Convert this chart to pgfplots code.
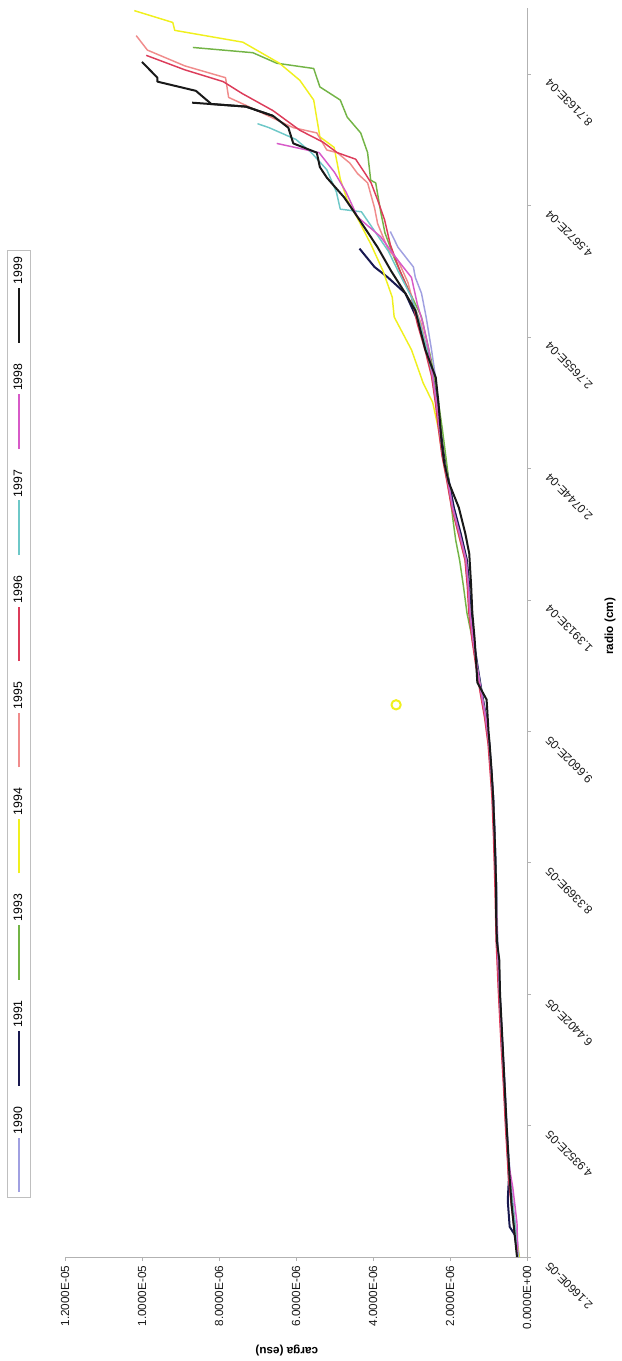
\documentclass[border=0pt]{standalone}
\usepackage{fontspec}
\setmainfont{Liberation Sans}
\usepackage{pgfplots}
\pgfplotsset{compat=1.18}
\definecolor{c1990}{RGB}{160,160,225}
\definecolor{c1991}{RGB}{25,25,80}
\definecolor{c1993}{RGB}{115,180,70}
\definecolor{c1994}{RGB}{240,240,30}
\definecolor{c1995}{RGB}{240,140,140}
\definecolor{c1996}{RGB}{220,60,90}
\definecolor{c1997}{RGB}{110,200,200}
\definecolor{c1998}{RGB}{215,90,200}
\definecolor{c1999}{RGB}{25,25,25}
\begin{document}
\begin{tikzpicture}[rotate=90, transform shape]
\path[use as bounding box] (-78.0pt,-71.24pt) rectangle (942.75pt,395.25pt);
\begin{axis}[
  at={(0pt,0pt)}, anchor=south west,
  scale only axis,
  width=936.75pt, height=346.5pt,
  xmin=0, xmax=95, ymin=0, ymax=12,
  axis lines*=left,
  axis line style={-, draw=gray!60},
  tick style={draw=gray!60},
  tick align=outside,
  major tick length=3pt,
  xtick={0,10,...,90},
  xticklabels={2.1660E-05,4.9352E-05,6.4402E-05,8.3369E-05,9.6602E-05,1.3913E-04,2.0744E-04,2.7655E-04,4.5672E-04,8.7163E-04},
  ytick={0,2,...,12},
  yticklabels={0.0000E+00,2.0000E-06,4.0000E-06,6.0000E-06,8.0000E-06,1.0000E-05,1.2000E-05},
  xticklabel style={xshift=-3pt, yshift=-10pt, rotate=45, anchor=east, font=\fontsize{8.8}{10}\selectfont, text=gray!20!black},
  yticklabel style={font=\fontsize{8.8}{10}\selectfont, text=gray!20!black},
  xlabel={\textbf{radio (cm)}},
  ylabel={\textbf{carga (esu)}},
  xlabel style={at={(axis description cs:0.505,-0.18)}, anchor=center, font=\fontsize{8.8}{10}\selectfont},
  ylabel style={at={(axis description cs:-0.075,0.52)}, anchor=center, rotate=0, font=\fontsize{8.8}{10}\selectfont},
  legend columns=9,
  legend style={at={(axis description cs:0.427,1.1)}, anchor=center, draw=gray!50, font=\fontsize{9.2}{11}\selectfont,
    inner ysep=2.5pt,
    /tikz/every even column/.append style={column sep=13pt}},
  legend image code/.code={\draw[#1] (0pt,0pt) -- (41pt,0pt);},
  every axis plot/.append style={line width=1.1pt, line join=round},
]
\addplot[c1990] coordinates {(0,0.20) (2,0.28) (4,0.36) (6,0.43) (8,0.48) (10,0.52) (13,0.57) (16,0.63) (20,0.70) (24,0.76) (28,0.79) (32,0.83) (35,0.87) (37,0.92) (39,0.97) (41,1.05) (43,1.17) (45,1.28) (47,1.38) (49,1.46) (51,1.50) (53,1.56) (55,1.72) (57,1.90) (59,2.02) (61,2.15) (63,2.24) (65,2.32) (67,2.38) (69,2.48) (71.5,2.62) (73.3,2.74) (74.5,2.9) (75.3,2.95) (76.8,3.35) (78,3.55)};
\addlegendentry{1990}
\addplot[c1991, line width=1.5pt] coordinates {(0,0.22) (1.7,0.32) (2.3,0.45) (4.3,0.50) (6,0.47) (8,0.50) (10,0.54) (13,0.59) (16,0.64) (20,0.71) (22.6,0.74) (24,0.78) (26,0.80) (28,0.80) (32,0.84) (35,0.88) (37,0.93) (39,0.98) (41,1.06) (43,1.18) (45,1.29) (47,1.39) (49,1.46) (51,1.50) (53,1.56) (55,1.72) (57,1.90) (59,2.03) (61,2.16) (63,2.25) (65,2.33) (67,2.42) (69,2.6) (71,2.8) (73.3,3.16) (74.5,3.61) (75.3,3.96) (76.7,4.35)};
\addlegendentry{1991}
\addplot[c1993] coordinates {(0,0.22) (2,0.30) (4,0.38) (6,0.45) (8,0.49) (10,0.53) (13,0.58) (16,0.64) (20,0.71) (24,0.77) (28,0.80) (32,0.84) (35,0.88) (37,0.93) (39,0.98) (41,1.07) (43,1.19) (45,1.30) (47,1.42) (49,1.56) (51,1.65) (53,1.75) (54.5,1.85) (56,1.92) (58,2.0) (60,2.07) (63,2.2) (66,2.35) (68.4,2.5) (71.5,2.74) (74.1,3.16) (76,3.45) (77.9,3.69) (79.5,3.8) (81.7,3.93) (81.9,4.06) (84,4.14) (85.5,4.32) (86.7,4.67) (88,4.85) (89,5.38) (90.4,5.54) (90.8,6.5) (91.6,7.12) (92,8.68)};
\addlegendentry{1993}
\addplot[c1994] coordinates {(0,0.20) (2,0.31) (4,0.39) (6,0.46) (8,0.50) (10,0.54) (13,0.59) (16,0.65) (20,0.72) (24,0.78) (28,0.81) (32,0.85) (35,0.89) (37,0.94) (39,0.99) (41,1.08) (43,1.20) (45,1.31) (47,1.41) (49,1.49) (51,1.53) (53,1.60) (55,1.78) (57,1.95) (59,2.07) (61,2.20) (63,2.30) (65,2.45) (66.5,2.7) (69,3.0) (71.5,3.45) (73,3.5) (75,3.74) (77,4.05) (79,4.4) (80.4,4.67) (82,4.85) (84.4,5.01) (85.2,5.38) (88,5.54) (89.5,5.9) (90.8,6.43) (92.4,7.38) (93.3,9.15) (93.9,9.2) (94.8,10.2)};
\addlegendentry{1994}
\addplot[c1995] coordinates {(0,0.23) (2,0.32) (4,0.40) (6,0.47) (8,0.51) (10,0.55) (13,0.60) (16,0.66) (20,0.73) (24,0.79) (28,0.82) (32,0.86) (35,0.90) (37,0.95) (39,1.00) (41,1.09) (43,1.21) (45,1.32) (47,1.42) (49,1.50) (51,1.54) (53,1.60) (55,1.77) (57,1.95) (59,2.07) (61,2.20) (63,2.29) (65,2.37) (67,2.47) (69,2.6) (71,2.75) (72.5,2.95) (74.1,3.09) (75.8,3.35) (76.6,3.6) (78.6,3.88) (79.8,3.96) (81.7,4.14) (82.4,4.4) (83.2,4.6) (84,4.93) (84.2,5.2) (85.5,5.46) (85.9,6.07) (87.5,7.23) (88.2,7.75) (89.7,7.83) (90.6,8.89) (91.8,9.86) (92.9,10.15)};
\addlegendentry{1995}
\addplot[c1996] coordinates {(0,0.24) (2,0.33) (4,0.41) (6,0.48) (8,0.52) (10,0.56) (13,0.61) (16,0.67) (20,0.74) (24,0.80) (28,0.83) (32,0.87) (35,0.91) (37,0.96) (39,1.01) (41,1.10) (43,1.22) (45,1.33) (47,1.43) (49,1.51) (51,1.55) (53,1.61) (55,1.78) (57,1.96) (59,2.08) (61,2.21) (63,2.30) (65,2.38) (67,2.48) (69,2.65) (71,2.85) (73,3.0) (75,3.3) (77,3.55) (78.9,3.7) (80.4,3.88) (81.7,4.05) (82.4,4.2) (83.5,4.45) (84,4.93) (84.8,5.3) (85.7,5.9) (87.2,6.6) (88.5,7.4) (89.4,7.89) (90.3,8.89) (91.4,9.89)};
\addlegendentry{1996}
\addplot[c1997] coordinates {(0,0.22) (2,0.30) (4,0.38) (6,0.45) (8,0.49) (10,0.53) (13,0.58) (16,0.64) (20,0.71) (24,0.77) (28,0.80) (32,0.84) (35,0.88) (37,0.93) (39,0.98) (41,1.07) (43,1.19) (45,1.30) (47,1.40) (49,1.48) (51,1.52) (53,1.58) (55,1.75) (57,1.93) (59,2.05) (61,2.18) (63,2.27) (65,2.35) (67,2.45) (69,2.6) (71,2.78) (73,3.0) (75,3.35) (76.5,3.6) (78,3.95) (79.5,4.3) (79.7,4.85) (81,4.95) (82.7,5.2) (84,5.6) (85,6.0) (85.9,6.7) (86.2,7.0)};
\addlegendentry{1997}
\addplot[c1998] coordinates {(0,0.24) (0.5,0.24) (2.6,0.26) (5.3,0.37) (7,0.47) (10,0.53) (13,0.58) (16,0.64) (20,0.71) (24,0.77) (28,0.80) (32,0.84) (35,0.88) (37,0.93) (39,0.98) (41,1.07) (43,1.19) (45,1.30) (47,1.40) (49,1.48) (51,1.52) (53,1.58) (55,1.75) (57,1.93) (59,2.05) (61,2.18) (63,2.27) (65,2.35) (67,2.45) (69,2.55) (71,2.7) (72.5,2.85) (74.5,3.0) (75.8,3.35) (77.6,3.8) (79.1,4.4) (81,4.7) (82.5,5.0) (84,5.4) (84.7,6.5)};
\addlegendentry{1998}
\addplot[c1999, line width=1.5pt] coordinates {(0,0.26) (2,0.33) (4,0.40) (6,0.45) (8,0.49) (10,0.53) (13,0.58) (16,0.63) (20,0.70) (22.6,0.72) (24,0.78) (25.9,0.80) (28,0.80) (32,0.84) (35,0.88) (37,0.92) (39,0.97) (40,1.0) (41.5,1.03) (42.4,1.05) (43.7,1.29) (45.2,1.32) (47,1.36) (49,1.42) (51,1.45) (53.5,1.50) (55,1.60) (57,1.77) (58.9,2.03) (60.4,2.15) (62,2.22) (65,2.30) (66.9,2.37) (69,2.64) (72,2.9) (73.3,3.16) (75,3.53) (76.8,3.88) (79.1,4.4) (80.6,4.75) (82.1,5.2) (82.9,5.38) (84,5.46) (84.7,6.07) (85.9,6.2) (86.8,6.6) (87.5,7.3) (87.7,8.2) (88.7,8.6) (89.4,9.6) (89.7,9.6) (90.9,10.0)};
\addlegendentry{1999}
\addplot[c1999, line width=1.5pt, forget plot] coordinates {(86.8,6.6) (87.5,7.3) (87.8,8.7)};
\addplot[c1994, only marks, mark=o, mark size=3.5pt, line width=1.5pt, forget plot] coordinates {(42,3.4)};
\end{axis}
\end{tikzpicture}
\end{document}
